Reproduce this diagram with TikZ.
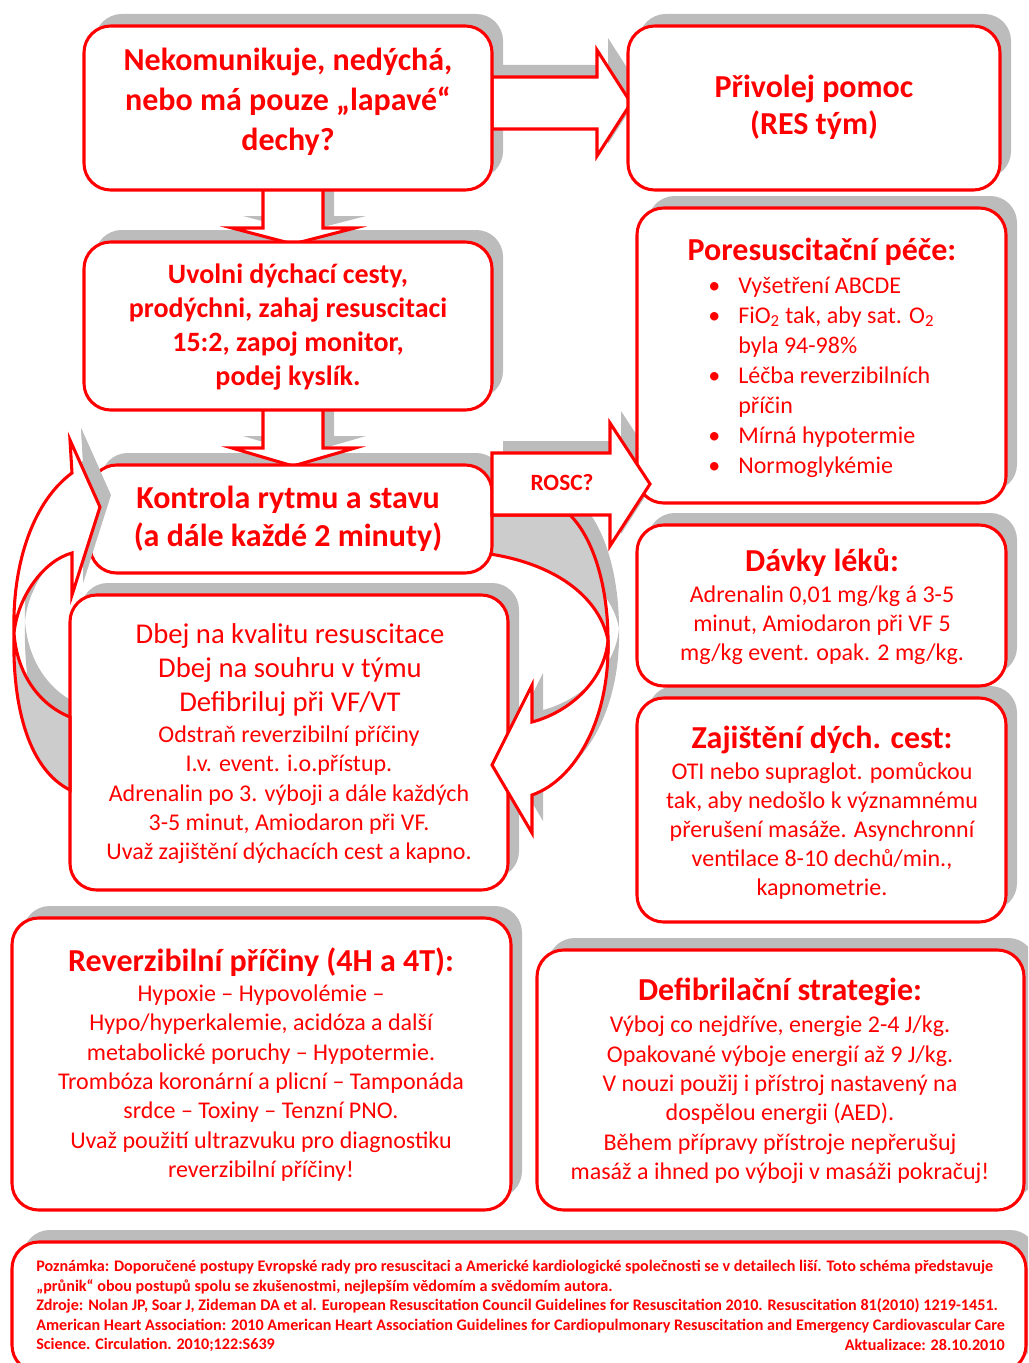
\documentclass[tikz,border=0pt]{standalone}
\usepackage{fontspec}
\setmainfont{Carlito}
\usetikzlibrary{fit}
\definecolor{rd}{RGB}{255,0,0}
\definecolor{shd}{RGB}{188,188,188}
\definecolor{gfill}{RGB}{204,204,204}
\newcommand\fsz[2]{\fontsize{#1}{#2}\selectfont}
\tikzset{
  box/.style={draw=rd, line width=2.3pt, fill=white, rounded corners=20pt, inner sep=0pt},
  shad/.style={fill=shd, rounded corners=20pt},
  blk/.style={draw=rd, line width=2.3pt, fill=white, line join=miter, miter limit=12},
  grayblk/.style={draw=rd, line width=2.3pt, fill=gfill, line join=miter, miter limit=12},
  tx/.style={text=rd, align=center, inner sep=0pt},
  shsh/.style={fill=shd, shift={(11,-12)}},
}
\def\pAB{(492,77) -- (597,77) -- (597,50) -- (631,103) -- (597,156) -- (597,129) -- (492,129) -- cycle}
\def\pAC{(263,185) -- (263,228) -- (232,228) -- (293,244) -- (355,228) -- (323,228) -- (323,185) -- cycle}
\def\pCD{(263,405) -- (263,448) -- (232,448) -- (293,466) -- (355,448) -- (323,448) -- (323,405) -- cycle}
\def\pROSC{(492,453) -- (610,453) -- (610,423) -- (650,484) -- (610,546) -- (610,515) -- (492,515) -- cycle}
\def\pLw{(14,633) .. controls (12,560) and (35,500) .. (72,473) -- (70,440) -- (100,507) -- (72,595) -- (72,553) .. controls (45,560) and (18,595) .. (14,633) -- cycle}
\def\pLg{(14,633) .. controls (17,675) and (40,705) .. (70,717) -- (70,790) .. controls (30,770) and (12,710) .. (14,633) -- cycle}
\def\pRw{(608,640) .. controls (610,720) and (575,780) .. (532,795) -- (532,833) -- (492,765) -- (532,685) -- (532,722) .. controls (570,712) and (605,680) .. (608,640) -- cycle}
\def\pRg{(608,640) .. controls (608,590) and (595,540) .. (570,515) -- (490,515) -- (490,554) .. controls (560,565) and (600,600) .. (608,640) -- cycle}
\begin{document}
\begin{tikzpicture}[x=0.75pt,y=-0.75pt]
\useasboundingbox (0,0) rectangle (1028,1363);
\clip (0,0) rectangle (1028,1363);
% ---------- shadows ----------
\foreach \a/\b/\c/\d in {84/26/492/190, 628/26/1000/190, 84/242/492/410, 90/465/492/573, 70/595/508/890, 637/208/1006/503, 637/525/1006/686, 637/698/1006/922, 12/918/511/1210, 537/950/1024/1210, 12/1242/1026/1372}
  \fill[shad] ({\a+11},{\b-12}) rectangle ({\c+11},{\d-12});
\fill[shsh] \pAB;
\fill[shsh] \pAC;
\fill[shsh] \pCD;
\fill[shsh] \pROSC;
\fill[shsh] \pRw;
\fill[shsh] \pRg;
\fill[shsh] \pLw;
\fill[shsh] \pLg;
% ---------- straight block arrows ----------
\draw[blk] \pAB;
\draw[blk] \pAC;
\draw[blk] \pCD;
% ---------- boxes ----------
\node[box, fit={(84,26) (492,190)}] (A) {};
\node[box, fit={(628,26) (1000,190)}] (B) {};
\node[box, fit={(84,242) (492,410)}] (C) {};
\node[box, fit={(70,595) (508,890)}] (E) {};
\node[box, fit={(637,208) (1006,503)}] (F) {};
\node[box, fit={(637,525) (1006,686)}] (G) {};
\node[box, fit={(637,698) (1006,922)}] (H) {};
\node[box, fit={(12,918) (511,1210)}] (I) {};
\node[box, fit={(537,950) (1024,1210)}] (J) {};
\node[box, fit={(12,1242) (1026,1372)}] (K) {};
% ---------- right curved arrow ----------
\draw[grayblk] \pRg;
\draw[blk] \pRw;
% ---------- box D ----------
\node[box, fit={(90,465) (492,573)}] (D) {};
% ---------- ROSC arrow ----------
\draw[blk] \pROSC;
\node[tx, font=\fsz{17.5}{20}\bfseries] (rosc) at (562,483) {ROSC?};
% ---------- left curved arrow ----------
\begin{scope}
\clip (0,400) rectangle (200,592);
\fill[shsh] \pLw;
\end{scope}
\draw[grayblk] \pLg;
\draw[blk] \pLw;
% ---------- texts ----------
\node[tx, font=\fsz{24}{30}\bfseries] (At) at (288,102) {Nekomunikuje, nedýchá,\\nebo má pouze „lapavé“\\dechy?};
\node[tx, font=\fsz{24}{28}\bfseries] (Bt) at (814,107) {Přivolej pomoc\\(RES tým)};
\node[tx, font=\fsz{21}{25.5}\bfseries] (Ct) at (288,327) {Uvolni dýchací cesty,\\prodýchni, zahaj resuscitaci\\15:2, zapoj monitor,\\podej kyslík.};
\node[tx, font=\fsz{24}{28.5}\bfseries] (Dt) at (288,519) {Kontrola rytmu a stavu\\(a dále každé 2 minuty)};
\node[tx, font=\fsz{21.5}{25.5}] (Et1) at (290,670) {Dbej na kvalitu resuscitace\\Dbej na souhru v týmu\\Defibriluj při VF/VT};
\node[tx, font=\fsz{18}{22}] (Et2) at (289,795) {Odstraň reverzibilní příčiny\\I.v. event. i.o.přístup.\\Adrenalin po 3. výboji a dále každých\\3-5 minut, Amiodaron při VF.\\Uvaž zajištění dýchacích cest a kapno.};
\node[tx, font=\fsz{24}{28}\bfseries] (Ft1) at (822,252) {Poresuscitační péče:};
\node[tx, align=left, anchor=west, font=\fsz{18}{22.5}] (Ft2) at (708,377) {\makebox[22.5pt][l]{•}Vyšetření ABCDE\\\makebox[22.5pt][l]{•}FiO\textsubscript{2} tak, aby sat. O\textsubscript{2}\\\hspace*{22.5pt}byla 94-98\%\\\makebox[22.5pt][l]{•}Léčba reverzibilních\\\hspace*{22.5pt}příčin\\\makebox[22.5pt][l]{•}Mírná hypotermie\\\makebox[22.5pt][l]{•}Normoglykémie};
\node[tx, font=\fsz{24}{28}\bfseries] (Gt1) at (822,562) {Dávky léků:};
\node[tx, font=\fsz{18}{21.75}] (Gt2) at (822,625) {Adrenalin 0,01 mg/kg á 3-5\\minut, Amiodaron při VF 5\\mg/kg event. opak. 2 mg/kg.};
\node[tx, font=\fsz{24}{28}\bfseries] (Ht1) at (822,740) {Zajištění dých. cest:};
\node[tx, font=\fsz{18}{21.75}] (Ht2) at (822,831) {OTI nebo supraglot. pomůckou\\tak, aby nedošlo k významnému\\přerušení masáže. Asynchronní\\ventilace 8-10 dechů/min.,\\kapnometrie.};
\node[tx, font=\fsz{24}{28}\bfseries] (It1) at (261,962) {Reverzibilní příčiny (4H a 4T):};
\node[tx, font=\fsz{18}{22}] (It2) at (261,1083) {Hypoxie – Hypovolémie –\\Hypo/hyperkalemie, acidóza a další\\metabolické poruchy – Hypotermie.\\Trombóza koronární a plicní – Tamponáda\\srdce – Toxiny – Tenzní PNO.\\Uvaž použití ultrazvuku pro diagnostiku\\reverzibilní příčiny!};
\node[tx, font=\fsz{24}{28}\bfseries] (Jt1) at (780,992) {Defibrilační strategie:};
\node[tx, font=\fsz{18}{22}] (Jt2) at (780,1100) {Výboj co nejdříve, energie 2-4 J/kg.\\Opakované výboje energií až 9 J/kg.\\V nouzi použij i přístroj nastavený na\\dospělou energii (AED).\\Během přípravy přístroje nepřerušuj\\masáž a ihned po výboji v masáži pokračuj!};
\node[tx, align=left, anchor=west, font=\fsz{12.1}{14.6}\bfseries] (Kt) at (36,1306) {Poznámka: Doporučené postupy Evropské rady pro resuscitaci a Americké kardiologické společnosti se v detailech liší. Toto schéma představuje\\„průnik“ obou postupů spolu se zkušenostmi, nejlepším vědomím a svědomím autora.\\Zdroje: Nolan JP, Soar J, Zideman DA et al. European Resuscitation Council Guidelines for Resuscitation 2010. Resuscitation 81(2010) 1219-1451.\\American Heart Association: 2010 American Heart Association Guidelines for Cardiopulmonary Resuscitation and Emergency Cardiovascular Care\\Science. Circulation. 2010;122:S639};
\node[tx, anchor=east, font=\fsz{12.1}{14.6}\bfseries] (Kt2) at (1005,1345) {Aktualizace: 28.10.2010};
\end{tikzpicture}
\end{document}
